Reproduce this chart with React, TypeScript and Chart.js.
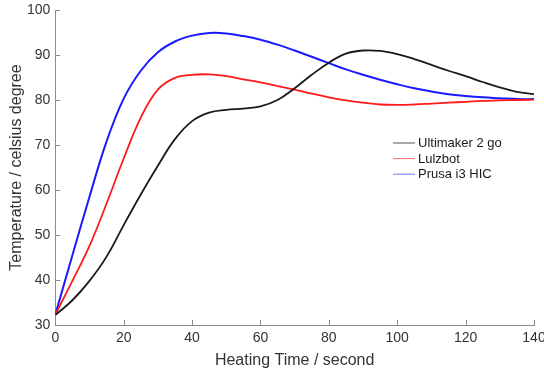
import React, { useEffect, useRef } from "react";
import { Chart, registerables } from "chart.js";

Chart.register(...registerables);

const timeSeconds = [0, 5, 10, 15, 20, 25, 30, 35, 40, 45, 50, 55, 60, 65, 70, 75, 80, 85, 90, 95, 100, 105, 110, 115, 120, 125, 130, 135, 140];
const ultimaker = [32.2, 35.5, 39.8, 45.2, 52.2, 59.0, 65.4, 71.3, 75.3, 77.2, 77.8, 78.1, 78.6, 80.0, 82.6, 85.6, 88.3, 90.3, 91.0, 90.9, 90.2, 89.1, 87.8, 86.5, 85.3, 84.0, 82.8, 81.8, 81.3];
const lulzbot = [32.3, 39.8, 47.6, 57.0, 67.0, 76.1, 82.3, 84.9, 85.6, 85.7, 85.3, 84.6, 83.9, 83.1, 82.3, 81.4, 80.6, 79.9, 79.4, 79.0, 78.9, 79.0, 79.2, 79.4, 79.6, 79.8, 79.9, 80.0, 80.1];
const prusa = [32.3, 45.5, 58.5, 70.8, 80.3, 86.5, 90.6, 93.0, 94.3, 94.9, 94.8, 94.2, 93.4, 92.3, 91.0, 89.6, 88.2, 86.8, 85.6, 84.5, 83.5, 82.6, 81.9, 81.3, 80.9, 80.6, 80.4, 80.2, 80.2];

const xTickValues = [0, 20, 40, 60, 80, 100, 120, 140];
const yTickValues = [30, 40, 50, 60, 70, 80, 90, 100];
const seriesNames = ["Ultimaker 2 go", "Lulzbot", "Prusa i3 HIC"];
const seriesColors = ["#1a1a1a", "#ff1a1a", "#1a1aff"];
const legendColors = ["#555555", "#ff7070", "#7070ff"];

const FONT = "'Liberation Sans', Arial, Helvetica, sans-serif";
const AXIS_COLOR = "#8c8c8c";
const TEXT_COLOR = "#333333";

export default function App() {
  const ref = useRef<HTMLCanvasElement>(null);

  useEffect(() => {
    document.body.style.margin = "0";
    const toPts = (vals: number[]) => timeSeconds.map((t, i) => ({ x: t, y: vals[i] }));
    const seriesValues = [ultimaker, lulzbot, prusa];

    const inwardTicks = {
      id: "inwardTicks",
      afterDatasetsDraw(chart: any) {
        const { ctx, chartArea, scales } = chart;
        ctx.save();
        ctx.strokeStyle = AXIS_COLOR;
        ctx.lineWidth = 1;
        ctx.beginPath();
        xTickValues.forEach((v) => {
          const x = Math.round(scales.x.getPixelForValue(v)) + 0.5;
          ctx.moveTo(x, chartArea.bottom);
          ctx.lineTo(x, chartArea.bottom - 5);
        });
        yTickValues.forEach((v) => {
          const y = Math.round(scales.y.getPixelForValue(v)) + 0.5;
          ctx.moveTo(chartArea.left, y);
          ctx.lineTo(chartArea.left + 5, y);
        });
        ctx.stroke();
        ctx.restore();
      },
    };

    const boxLegend = {
      id: "boxLegend",
      afterDraw(chart: any) {
        const { ctx } = chart;
        ctx.save();
        ctx.font = `13px ${FONT}`;
        ctx.textBaseline = "middle";
        ctx.textAlign = "left";
        seriesNames.forEach((name, i) => {
          const y = 143 + i * 15.6;
          ctx.strokeStyle = legendColors[i];
          ctx.lineWidth = 1;
          ctx.beginPath();
          ctx.moveTo(393, y);
          ctx.lineTo(415, y);
          ctx.stroke();
          ctx.fillStyle = "#1a1a1a";
          ctx.fillText(name, 418, y + 0.5);
        });
        ctx.restore();
      },
    };

    const chart = new Chart(ref.current as HTMLCanvasElement, {
      type: "line",
      data: {
        datasets: seriesNames.map((name, i) => ({
          label: name,
          data: toPts(seriesValues[i]),
          borderColor: seriesColors[i],
          backgroundColor: seriesColors[i],
          borderWidth: i === 2 ? 2 : 1.8,
          pointRadius: 0,
          tension: 0.4,
          fill: false,
        })),
      },
      options: {
        responsive: false,
        animation: false,
        devicePixelRatio: 1,
        layout: { padding: { top: 10, right: 10, left: 0, bottom: 0 } },
        plugins: {
          legend: { display: false },
          tooltip: { enabled: false },
        },
        scales: {
          x: {
            type: "linear",
            min: 0,
            max: 140,
            afterBuildTicks: (scale: any) => {
              scale.ticks = xTickValues.map((v) => ({ value: v }));
            },
            afterFit: (scale: any) => {
              scale.height = 48;
              scale.paddingLeft = 0;
              scale.paddingRight = 0;
            },
            grid: { display: false, drawTicks: false },
            border: { display: true, color: AXIS_COLOR, width: 1 },
            ticks: {
              padding: 5,
              color: TEXT_COLOR,
              font: { family: FONT, size: 14 },
              maxRotation: 0,
              autoSkip: false,
            },
            title: {
              display: true,
              text: "Heating Time / second",
              color: TEXT_COLOR,
              font: { family: FONT, size: 16 },
              padding: { top: 0, bottom: 3 },
            },
          },
          y: {
            type: "linear",
            min: 30,
            max: 100,
            afterBuildTicks: (scale: any) => {
              scale.ticks = yTickValues.map((v) => ({ value: v }));
            },
            afterFit: (scale: any) => {
              scale.width = 55.3;
              scale.paddingTop = 0;
              scale.paddingBottom = 0;
            },
            grid: { display: false, drawTicks: false },
            border: { display: true, color: AXIS_COLOR, width: 1 },
            ticks: {
              padding: 5,
              color: TEXT_COLOR,
              font: { family: FONT, size: 14 },
              autoSkip: false,
            },
            title: {
              display: true,
              text: "Temperature / celsius degree",
              color: TEXT_COLOR,
              font: { family: FONT, size: 16 },
              padding: { top: 7, bottom: 0 },
            },
          },
        },
      },
      plugins: [inwardTicks, boxLegend],
    });

    return () => chart.destroy();
  }, []);

  return (
    <div style={{ position: "absolute", left: 0, top: 0, width: 544, height: 373 }}>
      <canvas ref={ref} width={544} height={373} style={{ width: 544, height: 373 }} />
    </div>
  );
}
